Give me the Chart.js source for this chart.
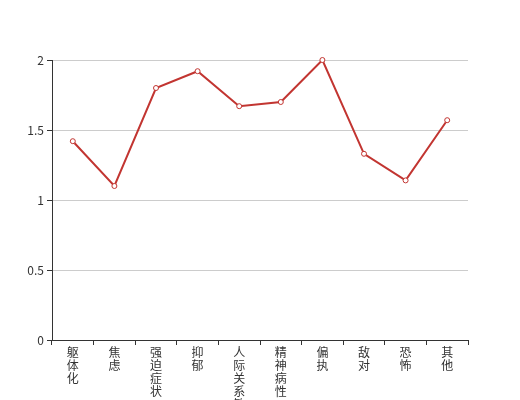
<!DOCTYPE html>
<html>
<head>
<meta charset="utf-8">
<script src="https://cdn.jsdelivr.net/npm/chart.js@4/dist/chart.umd.min.js"></script>
<style>
  body { margin: 0; background: #fff; }
  #wrap { width: 520px; height: 400px; }
</style>
</head>
<body>
<div id="wrap"><canvas id="myChart" width="520" height="400"></canvas></div>
<script>
// categories and scores
var categories = ["躯体化", "焦虑", "强迫症状", "抑郁", "人际关系敏感", "精神病性", "偏执", "敌对", "恐怖", "其他"];
var scores = [1.42, 1.10, 1.80, 1.92, 1.67, 1.70, 2.00, 1.33, 1.14, 1.57];
var yTicks = [0, 0.5, 1, 1.5, 2];

// vertical labels: one character per line
var verticalLabels = categories.map(function (c) { return c.split(""); });

var font = "'Noto Sans CJK SC', 'Noto Sans', sans-serif";

new Chart(document.getElementById("myChart"), {
  type: "line",
  data: {
    labels: verticalLabels,
    datasets: [{
      data: scores,
      borderColor: "#c23531",
      borderWidth: 2,
      backgroundColor: "#fff",
      pointBorderColor: "#c23531",
      pointBackgroundColor: "#fff",
      pointBorderWidth: 1,
      pointRadius: 2.5,
      tension: 0,
      clip: false
    }]
  },
  options: {
    responsive: false,
    animation: false,
    layout: { padding: { top: 60, right: 52, left: 0, bottom: 0 } },
    plugins: { legend: { display: false }, tooltip: { enabled: false } },
    scales: {
      x: {
        offset: true,
        afterFit: function (scale) { scale.height = 60; },
        border: { color: "#333", width: 1 },
        grid: { drawOnChartArea: false, drawTicks: true, tickLength: 5, color: "#333", offset: true },
        ticks: {
          color: "#333", maxRotation: 0, minRotation: 0, autoSkip: false, padding: 1,
          font: { family: font, size: 12, lineHeight: 1.08 }
        }
      },
      y: {
        min: 0, max: 2,
        afterFit: function (scale) { scale.width = 52; },
        afterBuildTicks: function (scale) { scale.ticks = yTicks.map(function (v) { return { value: v }; }); },
        border: { color: "#333", width: 1 },
        grid: { color: "#ccc", tickColor: "#333", tickLength: 5 },
        ticks: {
          color: "#333", padding: 3,
          font: { family: font, size: 12 },
          callback: function (v) { return String(v); }
        }
      }
    }
  }
});
</script>
</body>
</html>
